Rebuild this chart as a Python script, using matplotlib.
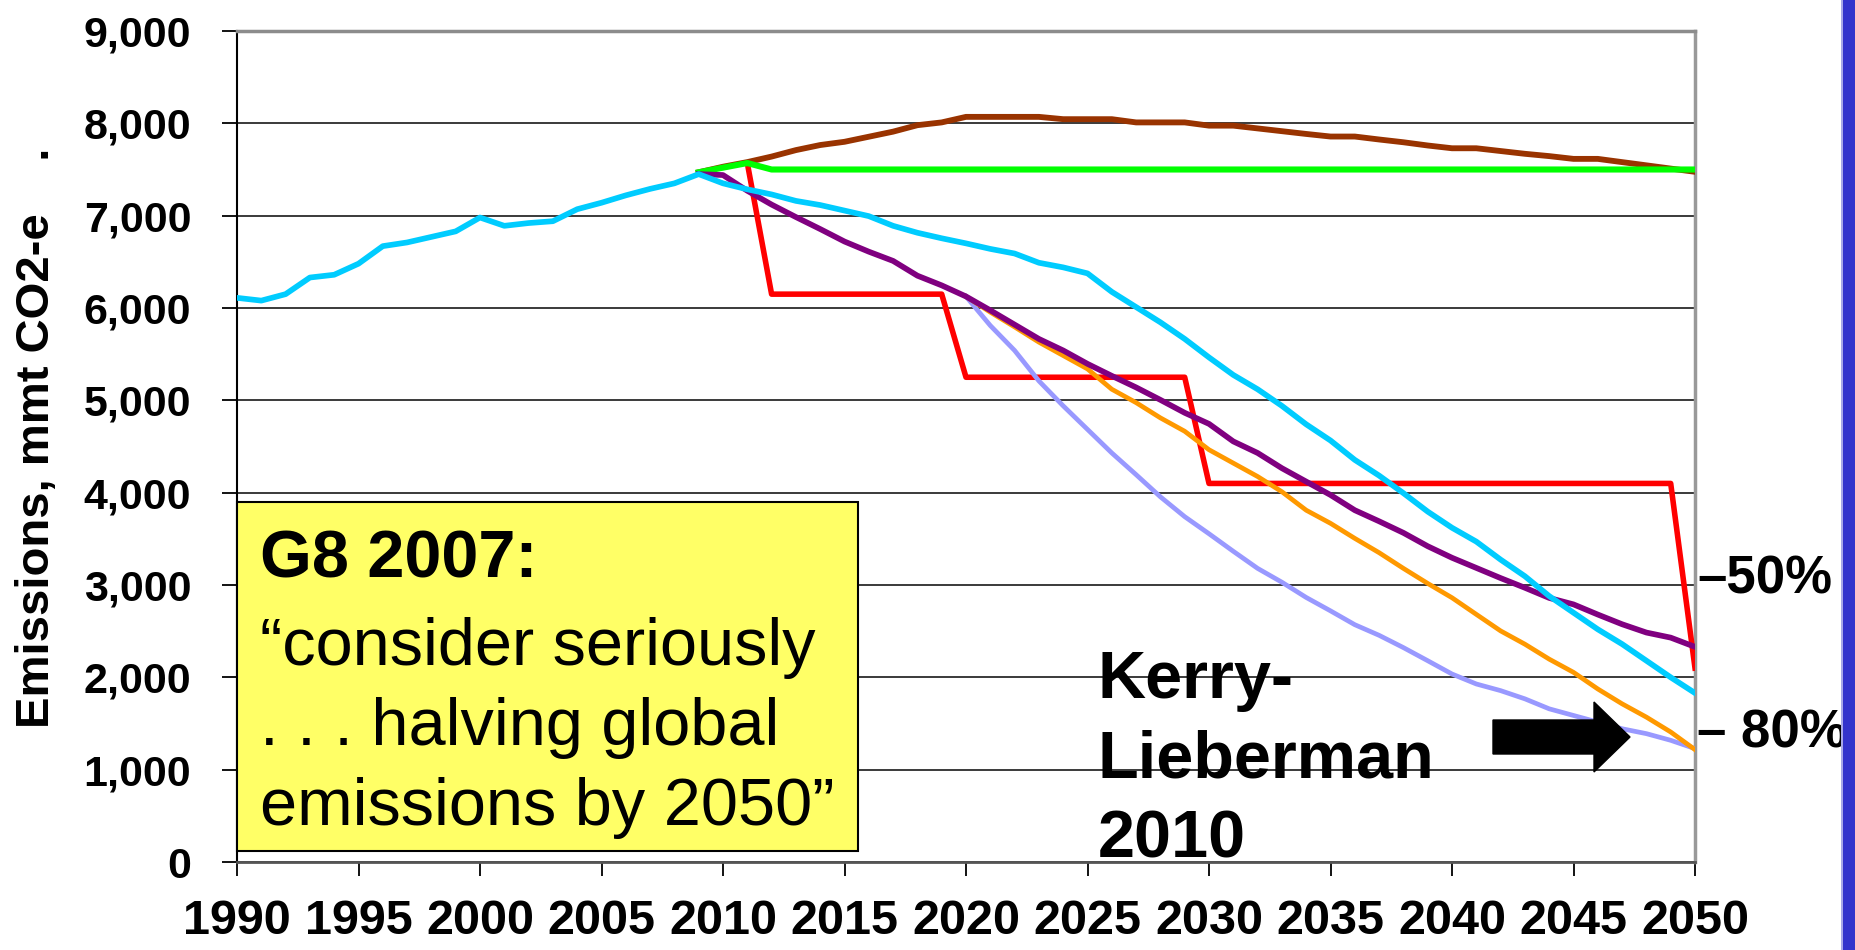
import matplotlib
matplotlib.use("Agg")
import matplotlib.pyplot as plt
from matplotlib.patches import Rectangle, Polygon

plt.rcParams['font.family'] = ['Liberation Sans', 'DejaVu Sans']

# historical emissions 1990-2009
hist_years = list(range(1990, 2010))
hist = [6110, 6080, 6150, 6330, 6360, 6480, 6670, 6710, 6770, 6830,
        6980, 6890, 6920, 6940, 7070, 7140, 7220, 7290, 7350, 7450]

# projections
proj_years = list(range(2010, 2051))
cyan_proj = [7350, 7285, 7230, 7160, 7115, 7055, 6995, 6890, 6815, 6755,
             6700, 6640, 6590, 6490, 6440, 6375, 6175, 6010, 5845, 5665,
             5465, 5275, 5120, 4940, 4740, 4565, 4355, 4185, 3995, 3795,
             3620, 3470, 3275, 3095, 2880, 2700, 2520, 2360, 2180, 2000, 1830]

bau_years = list(range(2009, 2051))
bau = [7470, 7530, 7580, 7640, 7710, 7765, 7800, 7855, 7910, 7980, 8010,
       8070, 8070, 8070, 8070, 8045, 8045, 8045, 8010, 8010, 8010,
       7975, 7975, 7945, 7915, 7885, 7857, 7857, 7825, 7795, 7760,
       7730, 7730, 7700, 7670, 7645, 7615, 7615, 7580, 7545, 7510, 7475]

flat_years = [2009, 2010, 2011, 2012, 2050]
flat = [7470, 7520, 7570, 7500, 7500]

step_years = [2011, 2012, 2019, 2020, 2029, 2030, 2049, 2050]
step = [7570, 6150, 6150, 5250, 5250, 4100, 4100, 2100]

kl_years = list(range(2009, 2051))
kl = [7450, 7440, 7270, 7120, 6985, 6855, 6720, 6610, 6510, 6350, 6245,
      6125, 5975, 5820, 5665, 5540, 5395, 5265, 5140, 5005, 4865,
      4745, 4555, 4430, 4265, 4120, 3975, 3810, 3690, 3565, 3420,
      3295, 3185, 3075, 2970, 2860, 2790, 2680, 2575, 2485, 2430, 2330]

late_years = list(range(2020, 2051))
orange = [6125, 5955, 5795, 5630, 5485, 5340, 5120, 4975, 4810, 4665,
          4465, 4320, 4175, 4010, 3810, 3668, 3505, 3350, 3180, 3017,
          2862, 2682, 2503, 2359, 2197, 2054, 1874, 1713, 1569, 1408, 1217]
lilac = [6125, 5810, 5540, 5210, 4940, 4685, 4430, 4195, 3955, 3740,
         3555, 3365, 3180, 3030, 2865, 2720, 2570, 2455, 2322, 2180,
         2036, 1928, 1856, 1767, 1659, 1587, 1515, 1443, 1390, 1318, 1228]

xticks = list(range(1990, 2051, 5))
yticks = list(range(0, 9001, 1000))
ylabels = ['0', '1,000', '2,000', '3,000', '4,000', '5,000', '6,000', '7,000', '8,000', '9,000']

W, H = 1856, 950
fig = plt.figure(figsize=(W / 100, H / 100), dpi=100)
ax = fig.add_axes([237 / W, 1 - 862 / H, (1695 - 237) / W, (862 - 31) / H])

ax.plot(step_years, step, color='#FF0000', lw=4, zorder=3)
ax.plot(bau_years, bau, color='#993300', lw=4.2, zorder=3)
ax.plot(flat_years, flat, color='#00FF00', lw=4.4, zorder=4)
ax.plot(late_years, lilac, color='#9999FF', lw=3.4, zorder=3)
ax.plot(late_years, orange, color='#FF9900', lw=3.4, zorder=3)
ax.plot(kl_years, kl, color='#800080', lw=4.1, zorder=4)
ax.plot(hist_years + proj_years, hist + cyan_proj, color='#00CCFF', lw=4.1, zorder=5)

ax.set_xlim(1990, 2050)
ax.set_ylim(0, 9000)
ax.set_xticks(xticks)
ax.set_xticklabels([str(y) for y in xticks], fontsize=35, fontweight='bold')
ax.set_yticks(yticks)
ax.set_yticklabels(ylabels, fontsize=31, fontweight='bold')
ax.tick_params(axis='y', direction='out', length=11, width=1.3, pad=22)
ax.tick_params(axis='x', direction='out', length=10, width=1.3, pad=17)

ax.set_axisbelow(True)
ax.yaxis.grid(True, color='#3a3a3a', lw=1.4)
ax.spines['left'].set_color('black')
ax.spines['left'].set_linewidth(1.5)
ax.spines['bottom'].set_color('#555555')
ax.spines['bottom'].set_linewidth(2)
ax.spines['top'].set_color('#8c8c8c')
ax.spines['top'].set_linewidth(2.5)
ax.spines['right'].set_color('#999999')
ax.spines['right'].set_linewidth(2.5)

# yellow quote box
ax.add_patch(Rectangle((0, (862 - 851) / 831), (858 - 237) / 1458, (851 - 502) / 831,
                       transform=ax.transAxes, facecolor='#FFFF66', edgecolor='black',
                       lw=1.5, zorder=10, clip_on=False))

fig.text(260 / W, 1 - 577 / H, 'G8 2007:', fontsize=48, fontweight='bold', va='baseline')
fig.text(260 / W, 1 - 665 / H, '\u201cconsider seriously', fontsize=48, va='baseline')
fig.text(260 / W, 1 - 745 / H, '. . . halving global', fontsize=48, va='baseline')
fig.text(260 / W, 1 - 825 / H, 'emissions by 2050\u201d', fontsize=48, va='baseline')

fig.text(1098 / W, 1 - 698 / H, 'Kerry-', fontsize=48, fontweight='bold', va='baseline')
fig.text(1098 / W, 1 - 778 / H, 'Lieberman', fontsize=48, fontweight='bold', va='baseline')
fig.text(1098 / W, 1 - 858 / H, '2010', fontsize=48, fontweight='bold', va='baseline')

fig.text(1697 / W, 1 - 593 / H, '\u201350%', fontsize=38, fontweight='bold', va='baseline')
fig.text(1697 / W, 1 - 748 / H, '\u2013 80%', fontsize=38, fontweight='bold', va='baseline')

fig.text(37 / W, 1 - 438 / H, 'Emissions, mmt CO2-e    .', rotation=90, fontsize=34,
         fontweight='bold', ha='center', va='center')

# black block arrow
arrow_px = [(1493, 720), (1594, 720), (1594, 702), (1630, 737),
            (1594, 772), (1594, 754), (1493, 754)]
fig.patches.append(Polygon([(x / W, 1 - y / H) for x, y in arrow_px], closed=True,
                           transform=fig.transFigure, facecolor='black',
                           edgecolor='black', zorder=6))

# blue strip on the right edge
fig.patches.append(Rectangle((1841 / W, 0), 2 / W, 1, transform=fig.transFigure,
                             facecolor='#A8A8E8', edgecolor='none', zorder=9))
fig.patches.append(Rectangle((1843 / W, 0), 13 / W, 1, transform=fig.transFigure,
                             facecolor='#3333CC', edgecolor='none', zorder=10))

fig.savefig('out.png', dpi=100)
